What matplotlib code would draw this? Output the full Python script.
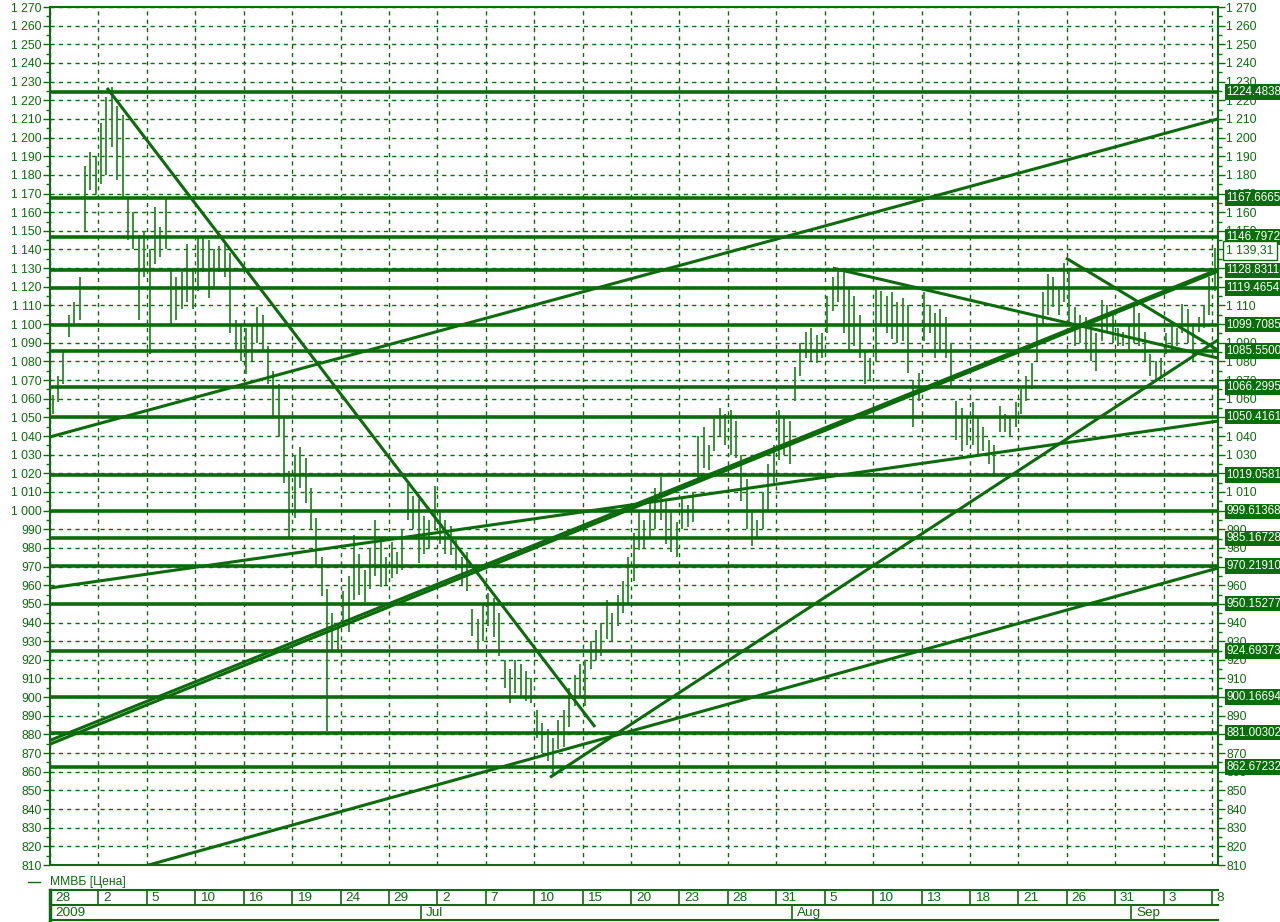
import numpy as np
import matplotlib
matplotlib.use("Agg")
import matplotlib.pyplot as plt
from matplotlib.lines import Line2D

# intraday bars of the MICEX index, three per trading day (last day has one)
bar_hi = [
    1062, 1072, 1085,   1105, 1112, 1125,   1185, 1192, 1190,   1208, 1222, 1227,
    1217, 1212, 1168,   1160, 1148, 1150,   1140, 1163, 1152,   1167, 1130, 1125,
    1128, 1143, 1130,   1146, 1147, 1145,   1140, 1142, 1143,   1138, 1102, 1100,
    1098, 1100, 1109,   1105, 1088, 1075,   1068, 1050, 1021,   1030, 1034, 1028,
    1012, 996, 975,     958, 945, 940,      957, 965, 987,      977, 968, 980,
    995, 985, 975,      983, 978, 990,      1014, 1008, 1006,   997, 995, 1013,
    1000, 995, 992,     984, 975, 978,      947, 942, 950,      956, 953, 945,
    920, 915, 920,      918, 914, 910,      893, 886, 883,      878, 888, 893,
    905, 912, 918,      920, 930, 936,      940, 952, 945,      955, 962, 975,
    988, 999, 995,      1005, 1012, 1018,   1005, 999, 994,     1007, 1003, 1010,
    1040, 1045, 1035,   1050, 1055, 1052,   1054, 1048, 1030,   1017, 1000, 995,
    1010, 1025, 1035,   1054, 1050, 1048,   1077, 1090, 1096,   1098, 1094, 1095,
    1115, 1125, 1130,   1128, 1120, 1115,   1105, 1085, 1082,   1120, 1118, 1115,
    1117, 1112, 1114,   1110, 1070, 1074,   1117, 1110, 1106,   1108, 1104, 1090,
    1059, 1055, 1050,   1058, 1050, 1045,   1038, 1035, 1056,   1052, 1050, 1058,
    1065, 1072, 1079,   1105, 1117, 1127,   1125, 1120, 1133,   1128, 1109, 1105,
    1104, 1100, 1095,   1113, 1110, 1105,   1098, 1096, 1100,   1110, 1106, 1096,
    1084, 1080, 1082,   1095, 1100, 1098,   1111, 1108, 1100,   1104, 1110, 1125,
    1141,
]
bar_lo = [
    1052, 1058, 1068,   1093, 1100, 1102,   1150, 1172, 1170,   1175, 1180, 1195,
    1177, 1168, 1145,   1140, 1102, 1125,   1084, 1132, 1136,   1140, 1100, 1102,
    1108, 1112, 1108,   1118, 1128, 1114,   1120, 1128, 1125,   1095, 1085, 1080,
    1073, 1080, 1090,   1085, 1068, 1050,   1040, 1015, 985,    996, 1012, 1004,
    990, 970, 954,      882, 924, 925,      941, 935, 952,      955, 951, 958,
    965, 959, 960,      964, 966, 968,      995, 990, 972,      977, 980, 990,
    982, 977, 976,      968, 960, 957,      933, 925, 930,      938, 932, 922,
    905, 897, 902,      900, 898, 897,      878, 870, 866,      857, 872, 873,
    884, 895, 900,      895, 915, 920,      922, 931, 930,      938, 945, 950,
    962, 979, 980,      985, 990, 995,      982, 978, 975,      990, 991, 994,
    1015, 1023, 1022,   1032, 1040, 1035,   1030, 1028, 1005,   990, 981, 985,
    990, 1000, 1015,    1027, 1030, 1025,   1059, 1072, 1082,   1080, 1079, 1082,
    1095, 1107, 1112,   1095, 1086, 1088,   1082, 1068, 1070,   1080, 1100, 1095,
    1092, 1090, 1091,   1074, 1045, 1059,   1091, 1095, 1082,   1085, 1082, 1067,
    1038, 1032, 1035,   1035, 1030, 1032,   1025, 1018, 1042,   1042, 1040, 1045,
    1052, 1059, 1065,   1080, 1100, 1105,   1109, 1105, 1112,   1100, 1088, 1090,
    1085, 1080, 1075,   1091, 1095, 1090,   1088, 1088, 1085,   1090, 1088, 1080,
    1072, 1070, 1072,   1084, 1085, 1088,   1095, 1090, 1080,   1096, 1098, 1105,
    1118,
]
last_price = 1139.31

day_ticks = [0, 3, 6, 9, 12, 15, 18, 21, 24, 27, 30, 33, 36, 39, 42, 45, 48,
             51, 54, 57, 60, 63, 66, 69, 72]
day_labels = ["28", "2", "5", "10", "16", "19", "24", "29", "2", "7", "10", "15",
              "20", "23", "28", "31", "5", "10", "13", "18", "21", "26", "31",
              "3", "8"]
month_starts = [0, 23, 46, 67]
month_labels = ["2009", "Jul", "Aug", "Sep"]

levels = [1224.48386, 1167.66659, 1146.79727, 1128.83118, 1119.46547,
          1099.70854, 1085.55008, 1066.29958, 1050.41612, 1019.05811,
          999.61368, 985.16728, 970.21910, 950.15277, 924.69373,
          900.16694, 881.00302, 862.67232]

# trend lines: start day, start value, end day, end value
tl_x0 = [3.53, 0.0, 0.0, 5.9, 0.0, 0.0, 30.98, 48.5, 62.95]
tl_y0 = [1226.6, 1039.5, 958.5, 809.5, 876.8, 874.8, 857.0, 1130.0, 1135.4]
tl_x1 = [33.77, 72.37, 72.37, 72.37, 72.37, 72.37, 72.37, 72.37, 72.37]
tl_y1 = [884.0, 1210.0, 1048.0, 969.2, 1129.3, 1128.3, 1091.5, 1081.8, 1086.0]

GREEN = "#0c6c0c"
BAR = "#248c24"
FONT = "Liberation Sans"
FS = 8.7

plt.rcParams["font.family"] = [FONT, "DejaVu Sans"]

fig = plt.figure(figsize=(12.8, 9.22), dpi=100)
W, H = 1280.0, 922.0
left, right, top, bottom = 50, 1218, 7, 865
ax = fig.add_axes([left / W, 1 - bottom / H, (right - left) / W, (bottom - top) / H])
XMAX = 72.37
ax.set_xlim(0, XMAX)
ax.set_ylim(810, 1270)

# grid
for d in day_ticks:
    ax.axvline(d, color=GREEN, lw=1, ls=(0, (3, 3)), zorder=1)
for v in range(810, 1271, 10):
    ax.axhline(v, color=GREEN, lw=1, ls=(0, (3, 3)), zorder=1)

# price bars
n = len(bar_hi)
bx = np.arange(n) / 3.0 + 1 / 6.0
ax.vlines(bx, bar_lo, bar_hi, color=BAR, lw=1.3, zorder=2)

# horizontal levels
for lv in levels:
    ax.axhline(lv, color=GREEN, lw=2.6, zorder=3)

# trend lines
for x0, y0, x1, y1 in zip(tl_x0, tl_y0, tl_x1, tl_y1):
    ax.plot([x0, x1], [y0, y1], color=GREEN, lw=2.2, zorder=4, solid_capstyle="butt")

# axes styling
for s in ax.spines.values():
    s.set_color(GREEN)
    s.set_linewidth(1.5)
ax.set_xticks(day_ticks)
ax.tick_params(axis="x", length=0, labelbottom=False)
ax.set_yticks(range(810, 1271, 10))
ax.set_yticks(range(815, 1270, 10), minor=True)
ax.set_yticklabels([f"{v:,}".replace(",", " ") for v in range(810, 1271, 10)])
ax.tick_params(axis="y", which="major", left=True, right=True, labelleft=True,
               labelright=True, length=5, width=1, color=GREEN, labelcolor=GREEN,
               labelsize=FS, pad=1)
ax.tick_params(axis="y", which="minor", left=True, right=True, length=3,
               width=1, color=GREEN)

# level labels on the right
for lv in levels:
    ax.annotate(f"{lv:.5f}", xy=(1, lv), xycoords=("axes fraction", "data"),
                xytext=(6, 0), textcoords="offset points", ha="left", va="center",
                color="white", fontsize=8.4, annotation_clip=False, zorder=6,
                bbox=dict(boxstyle="square,pad=0.15", fc="#0a6e0a", ec="none"))
ax.annotate(f"{last_price:,.2f}".replace(",", " ").replace(".", ","),
            xy=(1, last_price), xycoords=("axes fraction", "data"),
            xytext=(6, 0), textcoords="offset points", ha="left", va="center",
            color=GREEN, fontsize=FS, annotation_clip=False, zorder=6,
            bbox=dict(boxstyle="square,pad=0.3", fc="white", ec=GREEN, lw=1))

# legend
ly = 1 - 882 / H
fig.add_artist(Line2D([28 / W, 40 / W], [ly, ly], color=GREEN, lw=1))
fig.text(50 / W, ly, "ММВБ [Цена]", color=GREEN, fontsize=FS, va="center", ha="left")

# date axis
dax = fig.add_axes([left / W, 1 - 920 / H, (right - left) / W, (920 - 890) / H])
dax.set_xlim(0, XMAX)
dax.set_ylim(0, 2)
dax.axis("off")
for yy in (0, 1, 2):
    dax.plot([0, XMAX], [yy, yy], color=GREEN, lw=1.5, clip_on=False)
dax.plot([0, 0], [0, 2], color=GREEN, lw=2.5, clip_on=False)
for d, lab in zip(day_ticks, day_labels):
    dax.plot([d, d], [1, 2], color=GREEN, lw=1.2, clip_on=False)
    dax.text(d + 0.3, 1.5, lab, color=GREEN, fontsize=FS + 1, va="center", ha="left")
for d, lab in zip(month_starts, month_labels):
    dax.plot([d, d], [0, 1], color=GREEN, lw=1.2, clip_on=False)
    dax.text(d + 0.3, 0.5, lab, color=GREEN, fontsize=FS + 1, va="center", ha="left")

fig.savefig("out.png", dpi=100, facecolor="white")
